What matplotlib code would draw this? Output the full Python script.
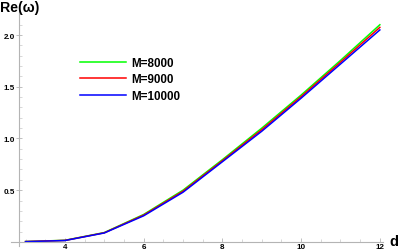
import matplotlib
matplotlib.use("Agg")
import matplotlib.pyplot as plt
from matplotlib.ticker import MultipleLocator, FixedLocator

d = [3, 4, 5, 6, 7, 8, 9, 10, 11, 12]
re_M8000 = [0.003, 0.015, 0.090, 0.265, 0.500, 0.795, 1.100, 1.420, 1.755, 2.100]
re_M9000 = [0.003, 0.014, 0.088, 0.259, 0.490, 0.785, 1.085, 1.405, 1.738, 2.075]
re_M10000 = [0.002, 0.013, 0.086, 0.252, 0.480, 0.775, 1.070, 1.390, 1.720, 2.050]
labels = ["M=8000", "M=9000", "M=10000"]
colors = ["#00ff00", "#ff0000", "#0000ff"]
xticks = [4, 6, 8, 10, 12]
yticks = [0.5, 1.0, 1.5, 2.0]

plt.rcParams['font.family'] = ['Liberation Sans', 'DejaVu Sans']

fig = plt.figure(figsize=(3.99, 2.53), dpi=100)
ax = fig.add_axes([11/399, 6/253, 372/399, 235/253])

for ys, lab, c in zip([re_M8000, re_M9000, re_M10000], labels, colors):
    ax.plot(d, ys, color=c, lw=1.1, label=lab)

ax.set_xlim(2.63, 12.08)
ax.set_ylim(-0.04, 2.233)

for s in ['top', 'right']:
    ax.spines[s].set_visible(False)
ax.spines['left'].set_position(('data', 2.83))
ax.spines['bottom'].set_position(('data', 0))
for s in ['left', 'bottom']:
    ax.spines[s].set_color('#b4b4b4')
    ax.spines[s].set_linewidth(0.8)

ax.xaxis.set_major_locator(FixedLocator(xticks))
ax.yaxis.set_major_locator(FixedLocator(yticks))
ax.xaxis.set_minor_locator(MultipleLocator(0.5))
ax.yaxis.set_minor_locator(MultipleLocator(0.1))
ax.set_xticklabels([str(x) for x in xticks])
ax.set_yticklabels([f"{y:.1f}" for y in yticks])
ax.tick_params(axis='y', which='major', direction='inout', length=4, width=0.6,
               color='#b4b4b4', labelsize=5.8, pad=1)
ax.tick_params(axis='x', which='major', direction='in', length=3, width=0.6,
               color='#b4b4b4', labelsize=5.8, pad=0.5)
ax.tick_params(which='minor', direction='in', length=2.2, width=0.5, color='#c8c8c8')
for t in ax.get_xticklabels() + ax.get_yticklabels():
    t.set_fontweight('bold')

fig.text(0, 1 - 1/253, "Re(ω)", fontsize=10.2, fontweight='bold', ha='left', va='top')
fig.text(1 - 1/399, 4/253, "d", fontsize=10.5, fontweight='bold', ha='right', va='bottom')

leg = ax.legend(loc='upper left', bbox_to_anchor=(80/399, 1 - 58/253),
                bbox_transform=fig.transFigure, frameon=False,
                prop={'size': 8.4, 'weight': 'bold'}, handlelength=3.9,
                handletextpad=0.45, labelspacing=0.38, borderpad=0, borderaxespad=0)

fig.savefig("out.png", dpi=100)
